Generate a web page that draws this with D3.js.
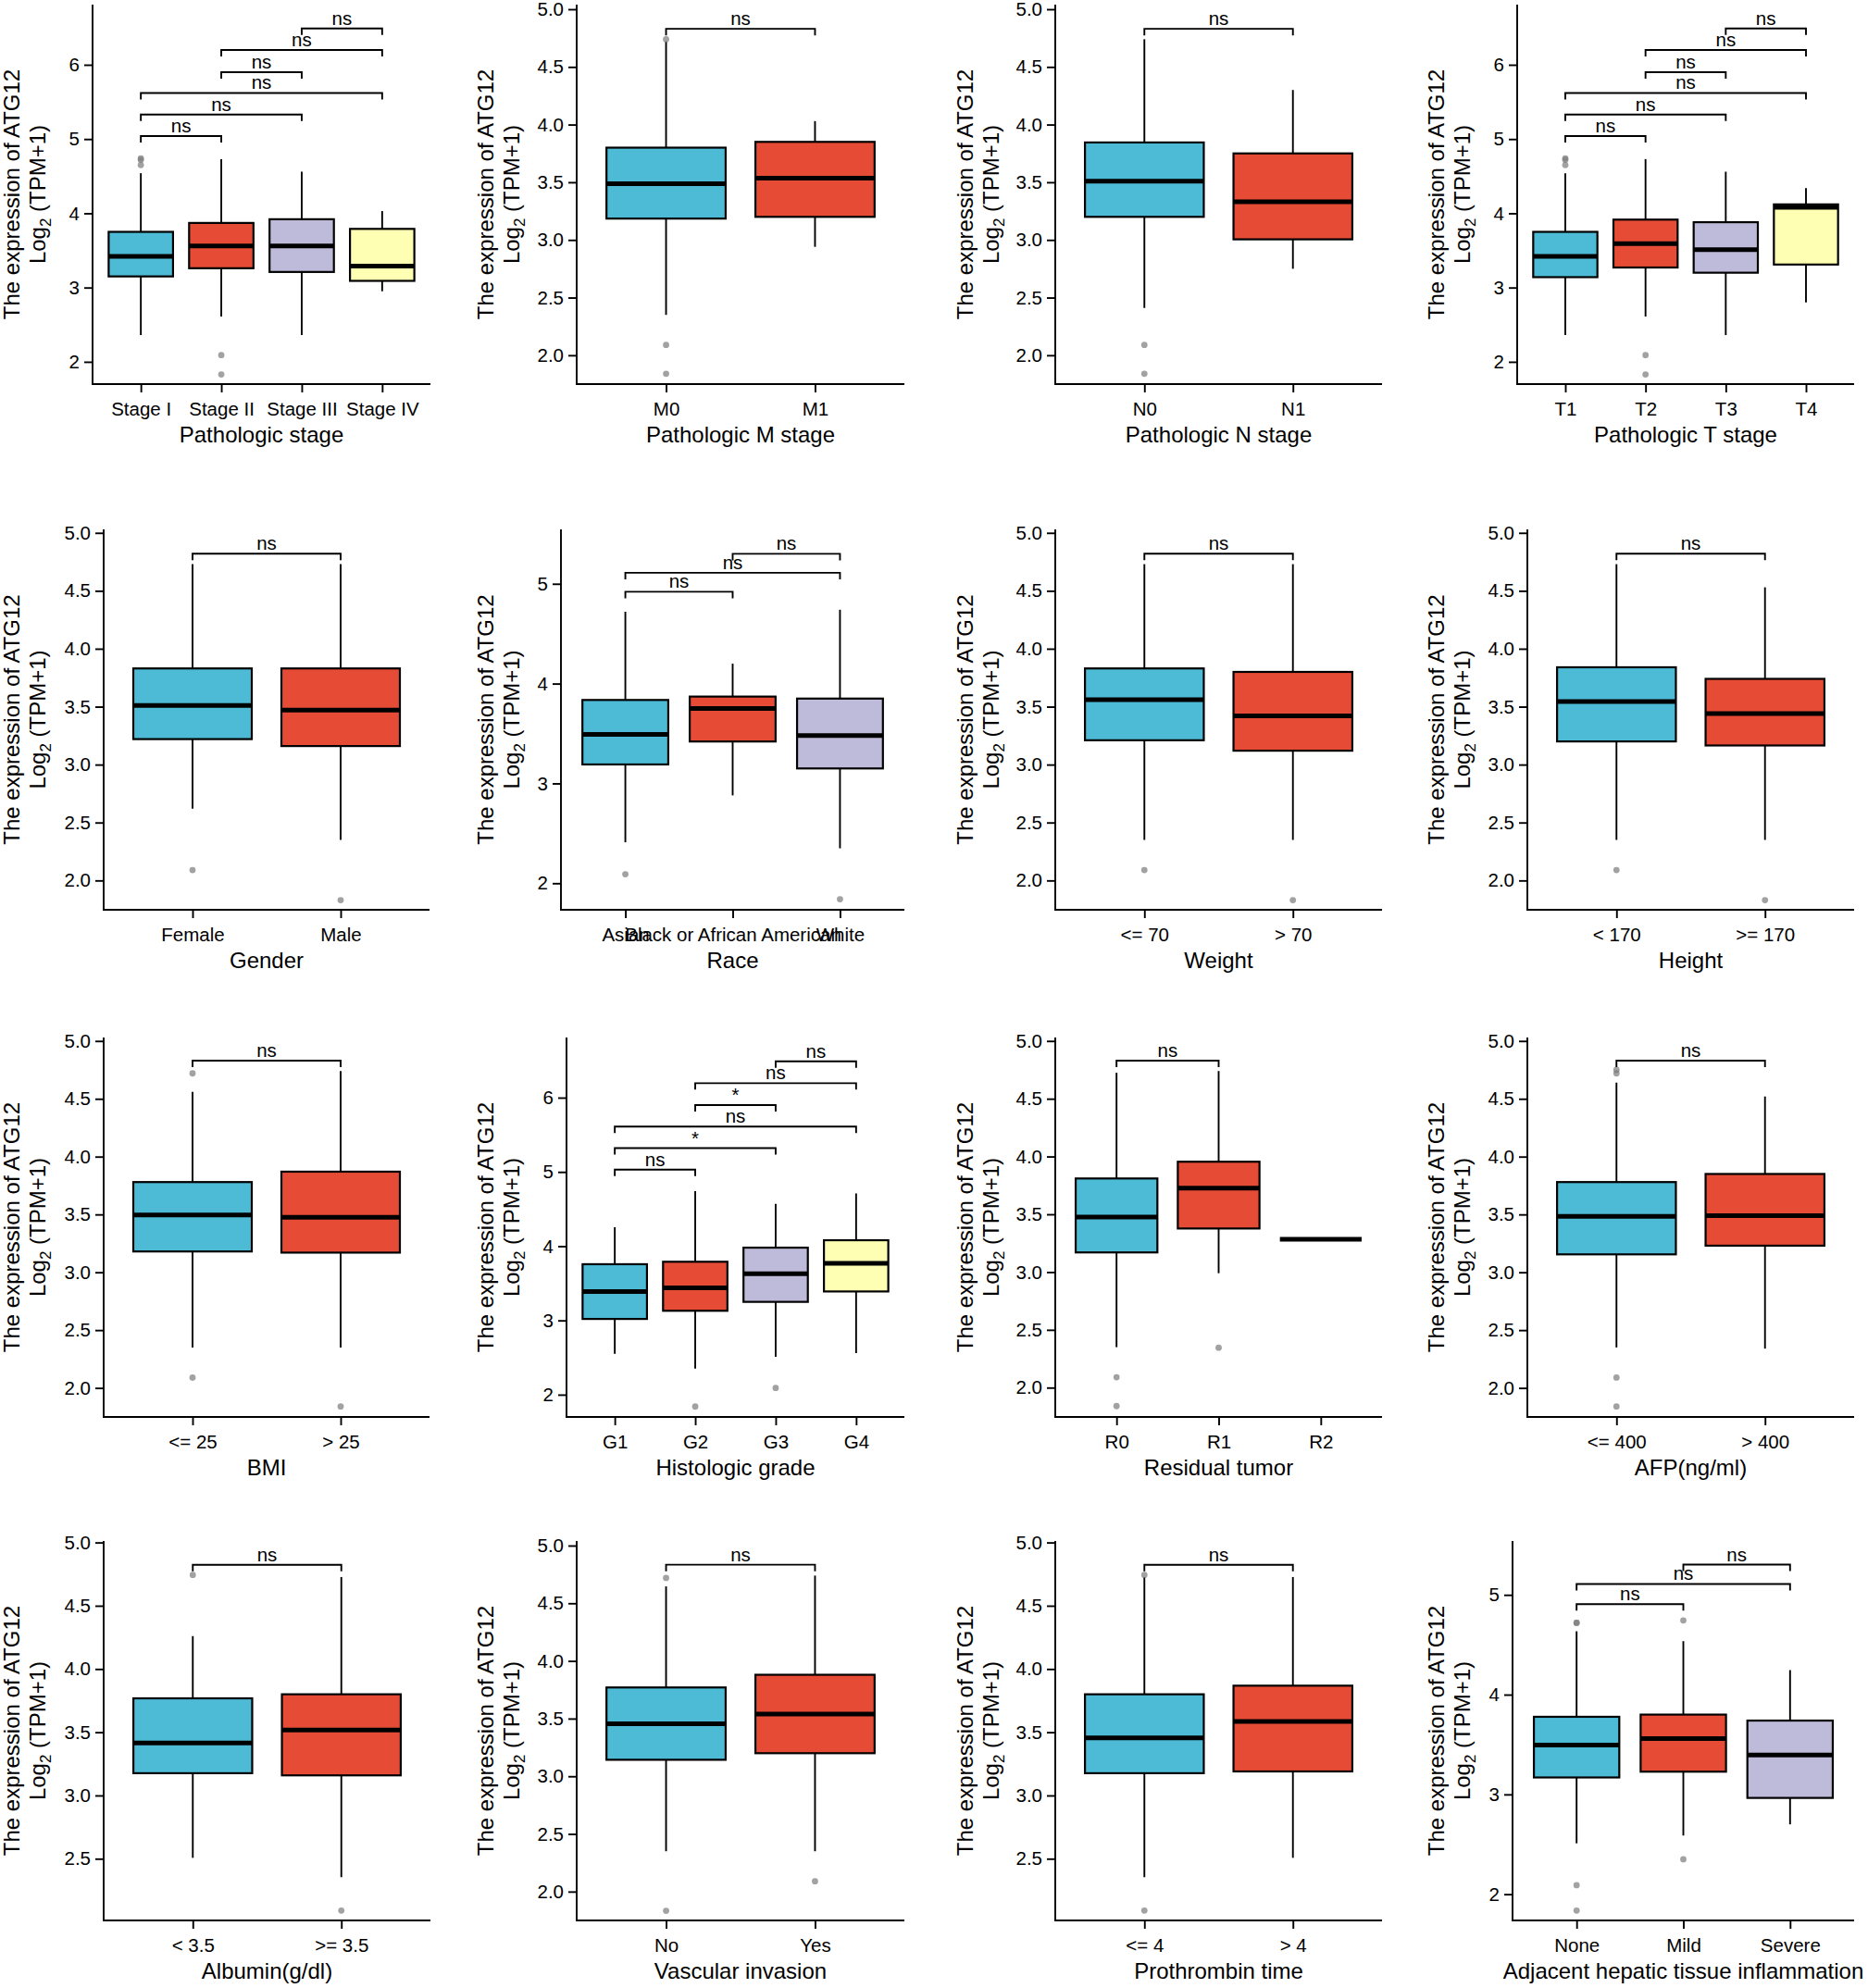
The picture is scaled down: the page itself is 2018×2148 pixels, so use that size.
<!DOCTYPE html>
<html>
<head>
<meta charset="utf-8">
<script src="https://cdn.jsdelivr.net/npm/d3@7"></script>
<style>
  html, body { margin: 0; padding: 0; background: #ffffff; }
  svg { display: block; }
  text { font-family: "Liberation Sans", Arial, sans-serif; fill: #000; }
</style>
</head>
<body>
<svg id="chart" width="2018" height="2148"></svg>
<script>
// ---------------- DATA (box statistics) ----------------
// 1. Pathologic stage
const stageCats    = ["Stage I", "Stage II", "Stage III", "Stage IV"];
const stageLower   = [2.36, 2.61, 2.36, 2.95];
const stageQ1      = [3.15, 3.26, 3.21, 3.09];
const stageMedian  = [3.42, 3.56, 3.56, 3.29];
const stageQ3      = [3.75, 3.87, 3.92, 3.79];
const stageUpper   = [4.54, 4.73, 4.56, 4.03];
const stageOut     = [[4.74, 4.72, 4.65], [2.09, 1.83], [], []];
const stageComp    = [[0,1,5.04,"ns"],[0,2,5.33,"ns"],[0,3,5.62,"ns"],[1,2,5.90,"ns"],[1,3,6.20,"ns"],[2,3,6.49,"ns"]];

// 2. Pathologic M stage
const mCats   = ["M0", "M1"];
const mLower  = [2.35, 2.94];
const mQ1     = [3.185, 3.20];
const mMedian = [3.487, 3.535];
const mQ3     = [3.80, 3.85];
const mUpper  = [4.72, 4.03];
const mOut    = [[4.74, 2.09, 1.84], []];
const mComp   = [[0,1,4.83,"ns"]];

// 3. Pathologic N stage
const nCats   = ["N0", "N1"];
const nLower  = [2.41, 2.75];
const nQ1     = [3.20, 3.005];
const nMedian = [3.51, 3.33];
const nQ3     = [3.845, 3.75];
const nUpper  = [4.74, 4.30];
const nOut    = [[2.09, 1.84], []];
const nComp   = [[0,1,4.83,"ns"]];

// 4. Pathologic T stage
const tCats   = ["T1", "T2", "T3", "T4"];
const tLower  = [2.36, 2.61, 2.36, 2.80];
const tQ1     = [3.14, 3.27, 3.20, 3.31];
const tMedian = [3.42, 3.59, 3.51, 4.08];
const tQ3     = [3.75, 3.915, 3.88, 4.12];
const tUpper  = [4.54, 4.73, 4.56, 4.34];
const tOut    = [[4.74, 4.72, 4.65], [2.09, 1.83], [], []];
const tComp   = [[0,1,5.04,"ns"],[0,2,5.33,"ns"],[0,3,5.62,"ns"],[1,2,5.90,"ns"],[1,3,6.20,"ns"],[2,3,6.49,"ns"]];

// 5. Gender
const genderCats   = ["Female", "Male"];
const genderLower  = [2.62, 2.35];
const genderQ1     = [3.22, 3.16];
const genderMedian = [3.51, 3.47];
const genderQ3     = [3.83, 3.83];
const genderUpper  = [4.73, 4.73];
const genderOut    = [[2.09], [1.83]];
const genderComp   = [[0,1,4.82,"ns"]];

// 6. Race
const raceCats   = ["Asian", "Black or African American", "White"];
const raceLower  = [2.41, 2.88, 2.35];
const raceQ1     = [3.19, 3.42, 3.15];
const raceMedian = [3.49, 3.75, 3.48];
const raceQ3     = [3.836, 3.87, 3.85];
const raceUpper  = [4.72, 4.20, 4.74];
const raceOut    = [[2.09], [], [1.84]];
const raceComp   = [[0,1,4.92,"ns"],[0,2,5.11,"ns"],[1,2,5.30,"ns"]];

// 7. Weight
const weightCats   = ["<= 70", "> 70"];
const weightLower  = [2.35, 2.35];
const weightQ1     = [3.21, 3.12];
const weightMedian = [3.56, 3.42];
const weightQ3     = [3.83, 3.80];
const weightUpper  = [4.73, 4.73];
const weightOut    = [[2.09], [1.83]];
const weightComp   = [[0,1,4.82,"ns"]];

// 8. Height
const heightCats   = ["< 170", ">= 170"];
const heightLower  = [2.35, 2.35];
const heightQ1     = [3.20, 3.165];
const heightMedian = [3.545, 3.44];
const heightQ3     = [3.84, 3.74];
const heightUpper  = [4.73, 4.53];
const heightOut    = [[2.09], [1.83]];
const heightComp   = [[0,1,4.82,"ns"]];

// 9. BMI
const bmiCats   = ["<= 25", "> 25"];
const bmiLower  = [2.35, 2.35];
const bmiQ1     = [3.18, 3.17];
const bmiMedian = [3.495, 3.475];
const bmiQ3     = [3.78, 3.87];
const bmiUpper  = [4.56, 4.74];
const bmiOut    = [[4.72, 2.09], [1.84]];
const bmiComp   = [[0,1,4.83,"ns"]];

// 10. Histologic grade
const gradeCats   = ["G1", "G2", "G3", "G4"];
const gradeLower  = [2.55, 2.35, 2.51, 2.56];
const gradeQ1     = [3.02, 3.13, 3.25, 3.39];
const gradeMedian = [3.39, 3.44, 3.63, 3.77];
const gradeQ3     = [3.757, 3.79, 3.98, 4.08];
const gradeUpper  = [4.255, 4.74, 4.57, 4.71];
const gradeOut    = [[], [1.84], [2.09], []];
const gradeComp   = [[0,1,5.03,"ns"],[0,2,5.32,"*"],[0,3,5.61,"ns"],[1,2,5.90,"*"],[1,3,6.195,"ns"],[2,3,6.49,"ns"]];

// 11. Residual tumor
const residCats   = ["R0", "R1", "R2"];
const residLower  = [2.35, 2.99, 3.283];
const residQ1     = [3.17, 3.377, 3.283];
const residMedian = [3.476, 3.727, 3.283];
const residQ3     = [3.81, 3.955, 3.283];
const residUpper  = [4.725, 4.74, 3.283];
const residOut    = [[2.09, 1.84], [2.345], []];
const residComp   = [[0,1,4.83,"ns"]];

// 12. AFP(ng/ml)
const afpCats   = ["<= 400", "> 400"];
const afpLower  = [2.35, 2.34];
const afpQ1     = [3.155, 3.23];
const afpMedian = [3.484, 3.49];
const afpQ3     = [3.78, 3.85];
const afpUpper  = [4.64, 4.52];
const afpOut    = [[4.75, 4.72, 2.09, 1.84], []];
const afpComp   = [[0,1,4.83,"ns"]];

// 13. Albumin(g/dl)
const albCats   = ["< 3.5", ">= 3.5"];
const albLower  = [2.507, 2.354];
const albQ1     = [3.176, 3.159];
const albMedian = [3.415, 3.517];
const albQ3     = [3.768, 3.80];
const albUpper  = [4.26, 4.727];
const albOut    = [[4.744], [2.09]];
const albComp   = [[0,1,4.824,"ns"]];

// 14. Vascular invasion
const vascCats   = ["No", "Yes"];
const vascLower  = [2.35, 2.35];
const vascQ1     = [3.143, 3.20];
const vascMedian = [3.456, 3.54];
const vascQ3     = [3.77, 3.88];
const vascUpper  = [4.646, 4.74];
const vascOut    = [[4.72, 1.834], [2.09]];
const vascComp   = [[0,1,4.834,"ns"]];

// 15. Prothrombin time
const protCats   = ["<= 4", "> 4"];
const protLower  = [2.354, 2.507];
const protQ1     = [3.176, 3.19];
const protMedian = [3.456, 3.585];
const protQ3     = [3.80, 3.868];
const protUpper  = [4.727, 4.727];
const protOut    = [[4.744, 2.09], []];
const protComp   = [[0,1,4.824,"ns"]];

// 16. Adjacent hepatic tissue inflammation
const inflCats   = ["None", "Mild", "Severe"];
const inflLower  = [2.51, 2.588, 2.70];
const inflQ1     = [3.17, 3.228, 2.965];
const inflMedian = [3.494, 3.56, 3.395];
const inflQ3     = [3.778, 3.80, 3.74];
const inflUpper  = [4.635, 4.536, 4.246];
const inflOut    = [[4.72, 4.72, 2.09, 1.836], [4.744, 2.35], []];
const inflComp   = [[0,1,4.907,"ns"],[0,2,5.109,"ns"],[1,2,5.303,"ns"]];

// Axis titles
const xTitles = ["Pathologic stage", "Pathologic M stage", "Pathologic N stage", "Pathologic T stage",
                 "Gender", "Race", "Weight", "Height",
                 "BMI", "Histologic grade", "Residual tumor", "AFP(ng/ml)",
                 "Albumin(g/dl)", "Vascular invasion", "Prothrombin time", "Adjacent hepatic tissue inflammation"];
const yTitleLine1 = "The expression of ATG12";

// Tick values
const ticksInt   = [2, 3, 4, 5, 6];
const ticksHalf  = [2.0, 2.5, 3.0, 3.5, 4.0, 4.5, 5.0];
const ticksAlb   = [2.5, 3.0, 3.5, 4.0, 4.5, 5.0];

const fills = ["#4DBBD5", "#E64B35", "#BEBADA", "#FFFFB3"];

// ---------------- LAYOUT (pixel geometry, separate from data) ----------------
const rows = [{top: 5, bottom: 415}, {top: 572, bottom: 983}, {top: 1121, bottom: 1531}, {top: 1665, bottom: 2075}];
const titleCapX = [3, 515, 1033, 1542];

const series = [
  [stageCats, stageLower, stageQ1, stageMedian, stageQ3, stageUpper, stageOut, stageComp],
  [mCats, mLower, mQ1, mMedian, mQ3, mUpper, mOut, mComp],
  [nCats, nLower, nQ1, nMedian, nQ3, nUpper, nOut, nComp],
  [tCats, tLower, tQ1, tMedian, tQ3, tUpper, tOut, tComp],
  [genderCats, genderLower, genderQ1, genderMedian, genderQ3, genderUpper, genderOut, genderComp],
  [raceCats, raceLower, raceQ1, raceMedian, raceQ3, raceUpper, raceOut, raceComp],
  [weightCats, weightLower, weightQ1, weightMedian, weightQ3, weightUpper, weightOut, weightComp],
  [heightCats, heightLower, heightQ1, heightMedian, heightQ3, heightUpper, heightOut, heightComp],
  [bmiCats, bmiLower, bmiQ1, bmiMedian, bmiQ3, bmiUpper, bmiOut, bmiComp],
  [gradeCats, gradeLower, gradeQ1, gradeMedian, gradeQ3, gradeUpper, gradeOut, gradeComp],
  [residCats, residLower, residQ1, residMedian, residQ3, residUpper, residOut, residComp],
  [afpCats, afpLower, afpQ1, afpMedian, afpQ3, afpUpper, afpOut, afpComp],
  [albCats, albLower, albQ1, albMedian, albQ3, albUpper, albOut, albComp],
  [vascCats, vascLower, vascQ1, vascMedian, vascQ3, vascUpper, vascOut, vascComp],
  [protCats, protLower, protQ1, protMedian, protQ3, protUpper, protOut, protComp],
  [inflCats, inflLower, inflQ1, inflMedian, inflQ3, inflUpper, inflOut, inflComp]
];

// per-panel: left axis x, right end x, y domain, ticks, format
const geom = [
  {l: 100,  r: 465,  dom: [1.70, 6.81], ticks: ticksInt,  fmt: "d"},
  {l: 623,  r: 977,  dom: [1.75, 5.04], ticks: ticksHalf, fmt: ".1f"},
  {l: 1140, r: 1493, dom: [1.75, 5.04], ticks: ticksHalf, fmt: ".1f"},
  {l: 1639, r: 2003, dom: [1.70, 6.81], ticks: ticksInt,  fmt: "d"},
  {l: 112,  r: 464,  dom: [1.747, 5.03], ticks: ticksHalf, fmt: ".1f"},
  {l: 606,  r: 977,  dom: [1.734, 5.545], ticks: ticksInt, fmt: "d"},
  {l: 1140, r: 1493, dom: [1.747, 5.03], ticks: ticksHalf, fmt: ".1f"},
  {l: 1650, r: 2003, dom: [1.747, 5.03], ticks: ticksHalf, fmt: ".1f"},
  {l: 112,  r: 464,  dom: [1.749, 5.03], ticks: ticksHalf, fmt: ".1f"},
  {l: 612,  r: 977,  dom: [1.70, 6.81], ticks: ticksInt,  fmt: "d"},
  {l: 1140, r: 1493, dom: [1.746, 5.03], ticks: ticksHalf, fmt: ".1f"},
  {l: 1650, r: 2003, dom: [1.749, 5.03], ticks: ticksHalf, fmt: ".1f"},
  {l: 112,  r: 465,  dom: [2.012, 5.012], ticks: ticksAlb, fmt: ".1f"},
  {l: 623,  r: 977,  dom: [1.75, 5.04], ticks: ticksHalf, fmt: ".1f"},
  {l: 1140, r: 1493, dom: [2.012, 5.012], ticks: ticksAlb, fmt: ".1f"},
  {l: 1634, r: 2003, dom: [1.737, 5.54], ticks: ticksInt,  fmt: "d"}
];

// ---------------- DRAW ----------------
const svg = d3.select("#chart");
const TICK_FONT = 20.5, TITLE_FONT = 24, LW = 1.9;

series.forEach((s, i) => {
  const [cats, lower, q1, med, q3, upper, outs, comps] = s;
  const g = geom[i];
  const row = rows[Math.floor(i / 4)];
  const col = i % 4;
  const panel = svg.append("g");

  const x = d3.scalePoint().domain(cats).range([g.l, g.r]).padding(0.6);
  const y = d3.scaleLinear().domain(g.dom).range([row.bottom, row.top]);
  const bw = x.step() * 0.8;
  const visibleTicks = g.ticks.filter(t => t >= g.dom[0] && t <= g.dom[1]);

  // axes
  const yAxis = d3.axisLeft(y).tickValues(visibleTicks).tickFormat(d3.format(g.fmt)).tickSize(9).tickPadding(5);
  const ya = panel.append("g").attr("transform", `translate(${g.l},0)`).call(yAxis);
  ya.select(".domain").remove();
  ya.selectAll(".tick line").attr("stroke", "#000").attr("stroke-width", LW);
  ya.selectAll(".tick text").attr("font-size", TICK_FONT).attr("font-family", "Liberation Sans, Arial, sans-serif").attr("fill", "#000");
  panel.append("line").attr("x1", g.l).attr("x2", g.l).attr("y1", row.top).attr("y2", row.bottom + LW / 2)
    .attr("stroke", "#000").attr("stroke-width", LW);

  const xAxis = d3.axisBottom(x).tickSize(9).tickPadding(10);
  const xa = panel.append("g").attr("transform", `translate(0,${row.bottom})`).call(xAxis);
  xa.select(".domain").remove();
  xa.selectAll(".tick line").attr("stroke", "#000").attr("stroke-width", LW);
  xa.selectAll(".tick text").attr("font-size", TICK_FONT).attr("font-family", "Liberation Sans, Arial, sans-serif").attr("fill", "#000");
  panel.append("line").attr("x1", g.l - LW / 2).attr("x2", g.r).attr("y1", row.bottom).attr("y2", row.bottom)
    .attr("stroke", "#000").attr("stroke-width", LW);

  // x title
  panel.append("text").attr("x", (g.l + g.r) / 2).attr("y", row.bottom + 63)
    .attr("text-anchor", "middle").attr("font-size", TITLE_FONT).text(xTitles[i]);

  // y title (two lines)
  const cy = (row.top + row.bottom) / 2;
  const b1 = titleCapX[col] + 17.5;
  panel.append("text").attr("transform", `translate(${b1},${cy}) rotate(-90)`)
    .attr("text-anchor", "middle").attr("font-size", TITLE_FONT).text(yTitleLine1);
  const t2 = panel.append("text").attr("transform", `translate(${b1 + 28},${cy}) rotate(-90)`)
    .attr("text-anchor", "middle").attr("font-size", TITLE_FONT);
  t2.append("tspan").text("Log");
  t2.append("tspan").attr("font-size", 17).attr("dy", 6).text("2");
  t2.append("tspan").attr("dy", -6).text(" (TPM+1)");

  // boxes
  cats.forEach((c, k) => {
    const cx = x(c);
    // whiskers
    panel.append("line").attr("x1", cx).attr("x2", cx).attr("y1", y(q3[k])).attr("y2", y(upper[k]))
      .attr("stroke", "#000").attr("stroke-width", LW);
    panel.append("line").attr("x1", cx).attr("x2", cx).attr("y1", y(q1[k])).attr("y2", y(lower[k]))
      .attr("stroke", "#000").attr("stroke-width", LW);
    // box
    panel.append("rect").attr("x", cx - bw / 2).attr("width", bw)
      .attr("y", y(q3[k])).attr("height", Math.max(0, y(q1[k]) - y(q3[k])))
      .attr("fill", fills[k]).attr("stroke", "#000").attr("stroke-width", LW + 0.3);
    // median
    panel.append("line").attr("x1", cx - bw / 2).attr("x2", cx + bw / 2).attr("y1", y(med[k])).attr("y2", y(med[k]))
      .attr("stroke", "#000").attr("stroke-width", 5);
    // outliers
    outs[k].forEach(v => {
      panel.append("circle").attr("cx", cx).attr("cy", y(v)).attr("r", 3.4)
        .attr("fill", "#7a7a7a").attr("fill-opacity", 0.7);
    });
  });

  // comparison brackets
  comps.forEach(([a, b, v, lab]) => {
    const x1 = x(cats[a]), x2 = x(cats[b]), yy = y(v);
    panel.append("path").attr("d", `M${x1},${yy + 7}V${yy}H${x2}V${yy + 7}`)
      .attr("fill", "none").attr("stroke", "#000").attr("stroke-width", LW);
    panel.append("text").attr("x", (x1 + x2) / 2).attr("y", yy - 4)
      .attr("text-anchor", "middle").attr("font-size", TICK_FONT).text(lab);
  });
});
</script>
</body>
</html>
